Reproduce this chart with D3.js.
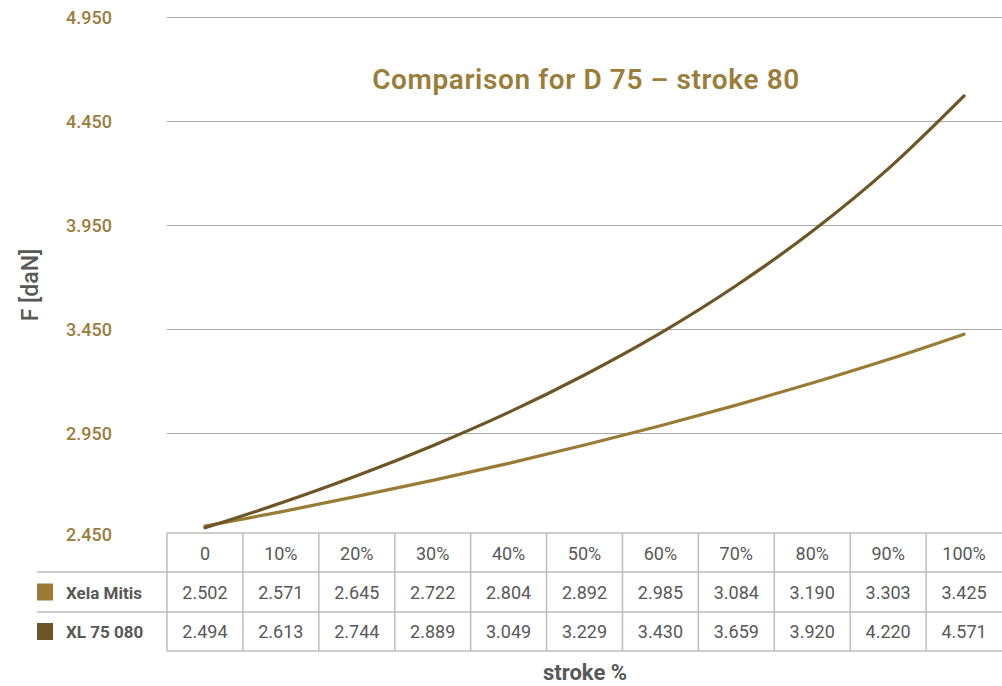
<!DOCTYPE html>
<html>
<head>
<meta charset="utf-8">
<script src="https://cdn.jsdelivr.net/npm/d3@7"></script>
<style>
  html, body { margin: 0; padding: 0; background: #fff; }
  svg { display: block; font-family: Roboto, "Noto Sans", sans-serif; }
</style>
</head>
<body>
<svg id="chart" width="1002" height="686"></svg>
<script>
// Stroke positions (table header / x categories)
const strokeLabels = ["0", "10%", "20%", "30%", "40%", "50%", "60%", "70%", "80%", "90%", "100%"];
// Force in daN for each model
const seriesNames = ["Xela Mitis", "XL 75 080"];
const xelaMitis = [2.502, 2.571, 2.645, 2.722, 2.804, 2.892, 2.985, 3.084, 3.190, 3.303, 3.425];
const xl75080   = [2.494, 2.613, 2.744, 2.889, 3.049, 3.229, 3.430, 3.659, 3.920, 4.220, 4.571];
const yTicks = [2.45, 2.95, 3.45, 3.95, 4.45, 4.95];

const colors = ["#9a7b36", "#6d5525"];
const gold = "#9b7d3b";
const grey = "#585858";

const svg = d3.select("#chart");
const plotLeft = 167, plotRight = 1002;

const x = d3.scaleBand().domain(strokeLabels).range([plotLeft, plotRight]);
const y = d3.scaleLinear().domain([2.45, 4.95]).range([537, 17]);

// horizontal gridlines
svg.append("g").selectAll("line").data(yTicks.slice(1)).join("line")
  .attr("x1", plotLeft).attr("x2", plotRight)
  .attr("y1", d => Math.round(y(d)) + 0.5).attr("y2", d => Math.round(y(d)) + 0.5)
  .attr("stroke", "#a9a9a9").attr("stroke-width", 1);

// y tick labels
svg.append("g").selectAll("text").data(yTicks).join("text")
  .attr("x", 112).attr("y", d => Math.min(y(d), 534) + 7)
  .attr("text-anchor", "end")
  .attr("fill", gold).attr("font-size", 18).attr("font-weight", 500)
  .text(d => d3.format(".3f")(d));

// y axis title
svg.append("text")
  .attr("transform", "translate(38,285) rotate(-90)")
  .attr("text-anchor", "middle")
  .attr("fill", grey).attr("font-size", 23).attr("font-weight", 500)
  .text("F [daN]");

// title
svg.append("text")
  .attr("x", 586).attr("y", 89)
  .attr("text-anchor", "middle")
  .attr("fill", gold).attr("font-size", 28).attr("font-weight", 600)
  .attr("letter-spacing", 0.6)
  .text("Comparison for D 75 \u2013 stroke 80");

// curves
const line = d3.line()
  .x((d, i) => x(strokeLabels[i]) + x.bandwidth() / 2)
  .y(d => y(d))
  .curve(d3.curveMonotoneX);

[xelaMitis, xl75080].forEach((vals, k) => {
  svg.append("path")
    .datum(vals)
    .attr("d", line)
    .attr("fill", "none")
    .attr("stroke", colors[k])
    .attr("stroke-width", 3.2)
    .attr("stroke-linecap", "round");
});

// data table
const rowTop = [533, 572, 612, 651];
const tbl = svg.append("g");
const lineColor = "#bcbcbc";

tbl.append("line").attr("x1", plotLeft).attr("x2", plotRight).attr("y1", rowTop[0]).attr("y2", rowTop[0])
  .attr("stroke", lineColor).attr("stroke-width", 1.5);
[rowTop[1], rowTop[2]].forEach(yy => {
  tbl.append("line").attr("x1", 37).attr("x2", plotRight).attr("y1", yy).attr("y2", yy)
    .attr("stroke", lineColor).attr("stroke-width", 1.5);
});
tbl.append("line").attr("x1", plotLeft).attr("x2", plotRight).attr("y1", rowTop[3]).attr("y2", rowTop[3])
  .attr("stroke", lineColor).attr("stroke-width", 1.5);

tbl.selectAll("line.v").data(strokeLabels).join("line")
  .attr("class", "v")
  .attr("x1", d => x(d)).attr("x2", d => x(d))
  .attr("y1", rowTop[0]).attr("y2", rowTop[3])
  .attr("stroke", lineColor).attr("stroke-width", 1.5);

// header
tbl.selectAll("text.h").data(strokeLabels).join("text")
  .attr("class", "h")
  .attr("x", d => x(d) + x.bandwidth() / 2).attr("y", 560)
  .attr("text-anchor", "middle").attr("fill", grey).attr("font-size", 18)
  .text(d => d);

// value rows with legend keys
[xelaMitis, xl75080].forEach((vals, k) => {
  const yy = (rowTop[k + 1] + rowTop[k + 2]) / 2 + 6.5;
  tbl.append("g").selectAll("text").data(vals).join("text")
    .attr("x", (d, i) => x(strokeLabels[i]) + x.bandwidth() / 2).attr("y", yy)
    .attr("text-anchor", "middle").attr("fill", grey).attr("font-size", 18)
    .text(d => d3.format(".3f")(d));
  tbl.append("rect")
    .attr("x", 37).attr("y", yy - 15).attr("width", 16).attr("height", 17)
    .attr("fill", colors[k]);
  tbl.append("text")
    .attr("x", 66).attr("y", yy)
    .attr("fill", grey).attr("font-size", 17).attr("font-weight", 700)
    .text(seriesNames[k]);
});

// x axis title
svg.append("text")
  .attr("x", 585).attr("y", 680)
  .attr("text-anchor", "middle")
  .attr("fill", grey).attr("font-size", 22).attr("font-weight", 700)
  .text("stroke %");
</script>
</body>
</html>
